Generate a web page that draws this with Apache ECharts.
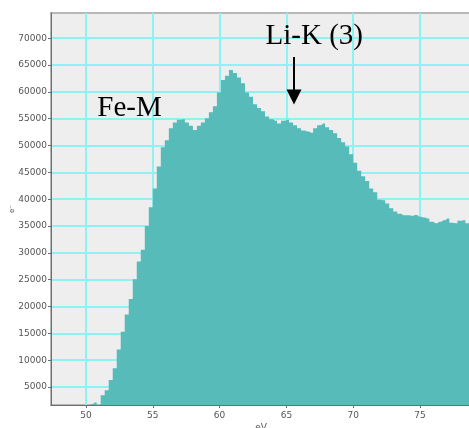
<!DOCTYPE html>
<html>
<head>
<meta charset="utf-8">
<script src="https://cdn.jsdelivr.net/npm/echarts@6/dist/echarts.min.js"></script>
<style>
  html, body { margin: 0; padding: 0; background: #fff; }
  #spectrum { width: 469px; height: 428px; }
</style>
</head>
<body>
<div id="spectrum"></div>
<script>
// bin centres (eV), 0.3 eV bins
const energy = [
  50.35, 50.65, 50.95, 51.25, 51.55, 51.85, 52.15, 52.45, 52.75, 53.05,
  53.35, 53.65, 53.95, 54.25, 54.55, 54.85, 55.15, 55.45, 55.75, 56.05,
  56.35, 56.65, 56.95, 57.25, 57.55, 57.85, 58.15, 58.45, 58.75, 59.05,
  59.35, 59.65, 59.95, 60.25, 60.55, 60.85, 61.15, 61.45, 61.75, 62.05,
  62.35, 62.65, 62.95, 63.25, 63.55, 63.85, 64.15, 64.45, 64.75, 65.05,
  65.35, 65.65, 65.95, 66.25, 66.55, 66.85, 67.15, 67.45, 67.75, 68.05,
  68.35, 68.65, 68.95, 69.25, 69.55, 69.85, 70.15, 70.45, 70.75, 71.05,
  71.35, 71.65, 71.95, 72.25, 72.55, 72.85, 73.15, 73.45, 73.75, 74.05,
  74.35, 74.65, 74.95, 75.25, 75.55, 75.85, 76.15, 76.45, 76.75, 77.05,
  77.35, 77.65, 77.95, 78.25, 78.55, 78.85
];
// counts per bin (e-)
const counts = [
  1800, 2100, 1600, 3450, 4400, 6300, 8500, 12000, 15300, 18500,
  21400, 25100, 28400, 30600, 35000, 38500, 42000, 46100, 49700, 51000,
  53200, 54300, 54800, 54900, 54300, 53700, 52900, 53700, 54300, 55100,
  56200, 57300, 59900, 62200, 63000, 64100, 63500, 62700, 61600, 59900,
  59100, 57700, 57000, 56400, 55400, 54900, 54600, 54100, 54600, 54800,
  54300, 53800, 53200, 52800, 52600, 52400, 53200, 53800, 54100, 53400,
  52900, 52300, 51400, 50600, 49800, 48400, 46800, 45300, 44300, 43400,
  42000, 41300, 39900, 39800, 39200, 38300, 37700, 37300, 37000, 37000,
  36900, 37050, 36750, 36600, 36400, 35800, 35500, 35800, 36100, 36400,
  35600, 35500, 36000, 36100, 35500, 35800
];

const labels = ['Fe-M', 'Li-K (3)'];
const labelAt = [[53.26, 57000], [67.09, 70330]];
const arrowFrom = [65.57, 66500];
const arrowTo = [65.57, 59060];

const axisFont = { fontFamily: 'DejaVu Sans', fontSize: 9, color: '#555' };
const grid = { color: '#8ef2f2', width: 2 };

const option = {
  animation: false,
  grid: {
    left: 51, top: 13, right: -2, bottom: 23,
    containLabel: false, outerBoundsMode: 'none',
    show: true, backgroundColor: '#eeeeee',
    borderColor: '#b8b8b8', borderWidth: 2
  },
  xAxis: {
    type: 'value', min: 47.38, max: 78.82, splitNumber: 6,
    name: 'eV', nameLocation: 'middle', nameGap: 18, nameMoveOverlap: false,
    nameTextStyle: axisFont,
    axisLine: { show: true, onZero: false, lineStyle: { color: '#6e6e6e' } },
    axisTick: { show: true, length: 3, lineStyle: { color: '#6e6e6e' } },
    axisLabel: Object.assign({ margin: 6, showMinLabel: false, showMaxLabel: false,
      formatter: v => String(v) }, axisFont),
    splitLine: { show: true, showMinLine: false, showMaxLine: false, lineStyle: grid }
  },
  yAxis: {
    type: 'value', min: 1650, max: 74700, splitNumber: 14,
    name: 'e⁻', nameLocation: 'middle', nameGap: 35, nameMoveOverlap: false,
    nameTextStyle: { fontFamily: 'DejaVu Sans', fontSize: 7, color: '#555' },
    axisLine: { show: true, lineStyle: { color: '#6e6e6e' } },
    axisTick: { show: true, length: 3, lineStyle: { color: '#6e6e6e' } },
    axisLabel: Object.assign({ margin: 4, showMinLabel: false, showMaxLabel: false,
      formatter: v => String(v) }, axisFont),
    splitLine: { show: true, showMinLine: false, showMaxLine: false, lineStyle: grid }
  },
  series: [{
    type: 'line',
    step: 'middle',
    symbol: 'none',
    data: energy.map((e, i) => [e, counts[i]]),
    lineStyle: { width: 0, color: '#56bbb9' },
    areaStyle: { color: '#56bbb9', opacity: 1 },
    markLine: {
      silent: true,
      symbol: ['none', 'triangle'],
      symbolSize: 15,
      label: { show: false },
      lineStyle: { color: '#000', width: 2, type: 'solid' },
      data: [[{ coord: arrowFrom }, { coord: arrowTo }]]
    },
    markPoint: {
      silent: true,
      symbol: 'circle',
      symbolSize: 1,
      itemStyle: { color: 'rgba(0,0,0,0)' },
      label: {
        show: true, position: 'inside',
        fontFamily: 'Liberation Serif', fontSize: 29, color: '#000',
        formatter: p => p.name
      },
      data: labels.map((t, i) => ({ name: t, coord: labelAt[i] }))
    }
  }]
};

const chart = echarts.init(document.getElementById('spectrum'));
chart.setOption(option);
</script>
</body>
</html>
